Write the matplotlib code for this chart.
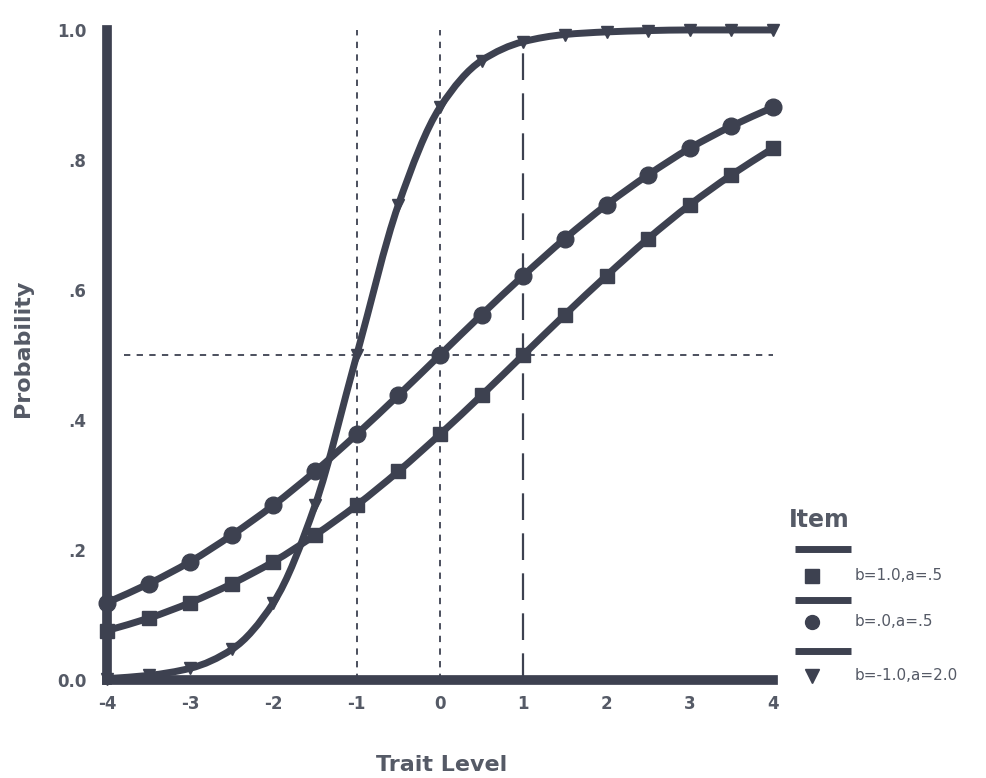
import matplotlib
matplotlib.use("Agg")
import numpy as np
import matplotlib.pyplot as plt
from matplotlib.lines import Line2D
from matplotlib.path import Path
from matplotlib.patches import PathPatch

plt.rcParams['font.family'] = ['DejaVu Sans']

# ---- data ----
trait = [-4.0, -3.5, -3.0, -2.5, -2.0, -1.5, -1.0, -0.5, 0.0,
         0.5, 1.0, 1.5, 2.0, 2.5, 3.0, 3.5, 4.0]
item_b1_a05 = [0.076, 0.095, 0.119, 0.148, 0.182, 0.223, 0.269, 0.321, 0.378,
               0.438, 0.500, 0.562, 0.622, 0.679, 0.731, 0.777, 0.818]
item_b0_a05 = [0.119, 0.148, 0.182, 0.223, 0.269, 0.321, 0.378, 0.438, 0.500,
               0.562, 0.622, 0.679, 0.731, 0.777, 0.818, 0.852, 0.881]
item_bm1_a2 = [0.002, 0.007, 0.018, 0.047, 0.119, 0.269, 0.500, 0.731, 0.881,
               0.953, 0.982, 0.993, 0.997, 0.999, 1.000, 1.000, 1.000]
item_labels = ["b=1.0,a=.5", "b=.0,a=.5", "b=-1.0,a=2.0"]
item_markers = ["s", "o", "v"]
xticks = [-4, -3, -2, -1, 0, 1, 2, 3, 4]
yticks = [0.0, 0.2, 0.4, 0.6, 0.8, 1.0]
ytick_labels = ["0.0", ".2", ".4", ".6", ".8", "1.0"]
ref_x_short = [-1, 0]
ref_x_long = [1]
ref_y = 0.5

LINE = "#3d4150"
TEXT = "#555a66"


def smooth_path(xs, ys):
    """Monotone cubic (Fritsch-Carlson) through the points, as Bezier path."""
    x = np.asarray(xs, float)
    y = np.asarray(ys, float)
    h = np.diff(x)
    d = np.diff(y) / h
    m = np.zeros_like(y)
    m[0], m[-1] = d[0], d[-1]
    for i in range(1, len(x) - 1):
        if d[i - 1] * d[i] <= 0:
            m[i] = 0
        else:
            w1 = 2 * h[i] + h[i - 1]
            w2 = h[i] + 2 * h[i - 1]
            m[i] = (w1 + w2) / (w1 / d[i - 1] + w2 / d[i])
    verts = [(x[0], y[0])]
    codes = [Path.MOVETO]
    for i in range(len(x) - 1):
        verts += [(x[i] + h[i] / 3, y[i] + m[i] * h[i] / 3),
                  (x[i + 1] - h[i] / 3, y[i + 1] - m[i + 1] * h[i] / 3),
                  (x[i + 1], y[i + 1])]
        codes += [Path.CURVE4] * 3
    return Path(verts, codes)


fig = plt.figure(figsize=(9.86, 7.78), dpi=100)
ax = fig.add_axes([0.1085, 0.126, 0.6755, 0.8355])
ax.set_xlim(-4, 4)
ax.set_ylim(0, 1)

# reference lines
for xv in ref_x_short:
    ax.plot([xv, xv], [0, 1], color=LINE, lw=1.3, ls=(0, (3.5, 3.5)), zorder=1)
for xv in ref_x_long:
    ax.plot([xv, xv], [0, 0.985], color=LINE, lw=1.6, ls=(0, (12, 6)), zorder=1)
ax.plot([-3.8, 4], [ref_y, ref_y], color=LINE, lw=1.3, ls=(0, (3.5, 3.5)), zorder=1)

series = [item_b1_a05, item_b0_a05, item_bm1_a2]
msizes = [10, 12, 9]
for ys, mk, ms in zip(series, item_markers, msizes):
    patch = PathPatch(smooth_path(trait, ys), facecolor='none', edgecolor=LINE,
                      lw=5, capstyle='butt', joinstyle='round', zorder=3,
                      clip_on=False)
    ax.add_patch(patch)
    ax.plot(trait, ys, lw=0, marker=mk, markersize=ms, color=LINE,
            markeredgecolor=LINE, clip_on=False, zorder=4)

# spines
for s in ["top", "right"]:
    ax.spines[s].set_visible(False)
for s in ["left", "bottom"]:
    ax.spines[s].set_linewidth(7)
    ax.spines[s].set_color(LINE)
    ax.spines[s].set_zorder(2)

ax.set_xticks(xticks)
ax.set_xticklabels([str(v) for v in xticks])
ax.set_yticks(yticks)
ax.set_yticklabels(ytick_labels)
ax.tick_params(length=0, colors=TEXT, labelsize=12)
ax.tick_params(axis='x', pad=11)
ax.tick_params(axis='y', pad=15)
for lab in ax.get_xticklabels() + ax.get_yticklabels():
    lab.set_color(TEXT)
    lab.set_fontweight('bold')

fig.text(0.448, 0.017, "Trait Level", ha='center', va='center',
         fontsize=16, fontweight='bold', color=TEXT)
fig.text(0.023, 0.552, "Probability", ha='center', va='center', rotation=90,
         fontsize=16, fontweight='bold', color=TEXT)

# legend (drawn manually in figure coordinates)
W, H = 986.0, 778.0
fig.text(789 / W, 1 - 520 / H, "Item", ha='left', va='center',
         fontsize=17, fontweight='bold', color=TEXT)
bar_y = [549, 600, 651]
mk_y = [576, 622, 676]
for lab, mk, by, my in zip(item_labels, item_markers, bar_y, mk_y):
    fig.add_artist(Line2D([795 / W, 851 / W], [1 - by / H, 1 - by / H],
                          color=LINE, lw=5, transform=fig.transFigure,
                          solid_capstyle='butt'))
    fig.add_artist(Line2D([812 / W], [1 - my / H], marker=mk, markersize=10,
                          color=LINE, lw=0, transform=fig.transFigure))
    fig.text(855 / W, 1 - my / H, lab, ha='left', va='center',
             fontsize=11, color=TEXT)

fig.savefig("out.png", dpi=100)
